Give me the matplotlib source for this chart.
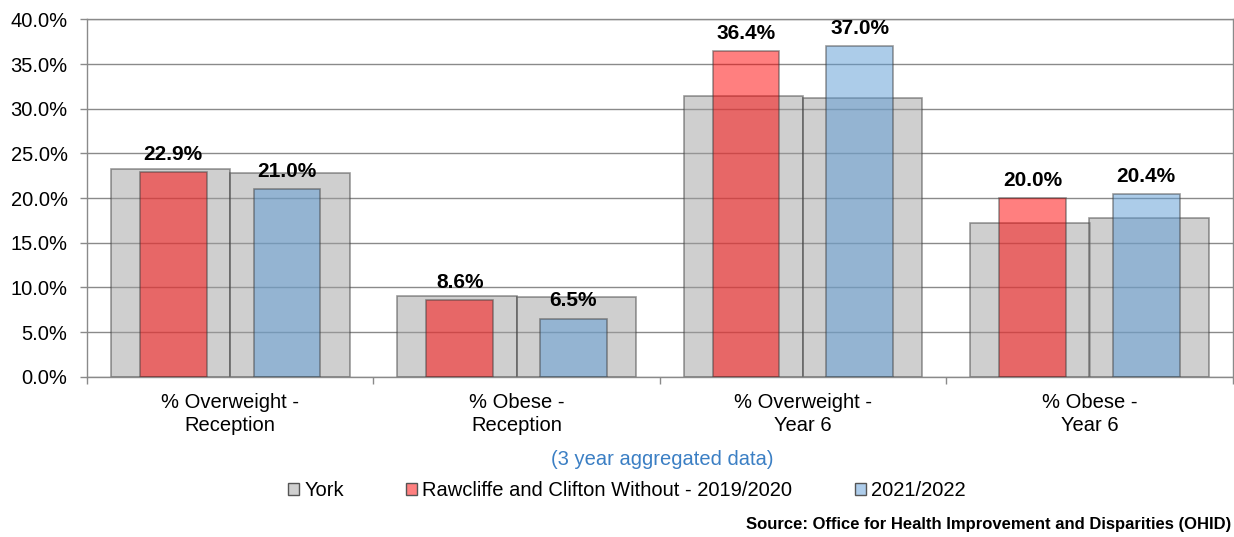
import matplotlib
matplotlib.use('Agg')
import matplotlib.pyplot as plt
import matplotlib.patches as patches
import numpy as np

plt.rcParams['font.family'] = ['Liberation Sans', 'DejaVu Sans']

categories = ['% Overweight -\nReception', '% Obese -\nReception',
              '% Overweight -\nYear 6', '% Obese -\nYear 6']
york_1920 = [23.2, 9.0, 31.4, 17.2]
york_2122 = [22.8, 8.9, 31.2, 17.8]
ward_1920 = [22.9, 8.6, 36.4, 20.0]
ward_2122 = [21.0, 6.5, 37.0, 20.4]
legend_labels = ['York', 'Rawcliffe and Clifton Without - 2019/2020', '2021/2022']
yticks = [0, 5, 10, 15, 20, 25, 30, 35, 40]

grid_col = '#8a8a8a'
edge_col = '#3a3a3a'

fig = plt.figure(figsize=(12.34, 5.37), dpi=100)
ax = fig.add_axes([0.0705, 0.2985, 0.9285, 0.6655])

x = np.arange(len(categories))
ax.set_axisbelow(True)
ax.yaxis.grid(True, color=grid_col, linewidth=1.0, zorder=0)

# York background bars
ax.bar(x - 0.208, york_1920, width=0.417, color='#a0a0a0', alpha=0.5,
       edgecolor=edge_col, linewidth=1.2, zorder=2)
ax.bar(x + 0.208, york_2122, width=0.417, color='#a0a0a0', alpha=0.5,
       edgecolor=edge_col, linewidth=1.2, zorder=2)

# ward bars
b1 = ax.bar(x - 0.199, ward_1920, width=0.233, color='#ff0000', alpha=0.5,
            edgecolor=edge_col, linewidth=1.2, zorder=3)
b2 = ax.bar(x + 0.198, ward_2122, width=0.233, color='#5b9bd5', alpha=0.5,
            edgecolor=edge_col, linewidth=1.2, zorder=3)

for bars, vals in ((b1, ward_1920), (b2, ward_2122)):
    for r, v in zip(bars, vals):
        ax.annotate('%.1f%%' % v, (r.get_x() + r.get_width() / 2, v),
                    xytext=(0, 6), textcoords='offset points',
                    ha='center', va='bottom', fontsize=15, fontweight='bold',
                    color='black', zorder=5)

ax.set_xlim(-0.5, len(categories) - 0.5)
ax.set_ylim(0, 40)
ax.set_yticks(yticks)
ax.set_yticklabels(['%.1f%%' % t for t in yticks])
ax.tick_params(axis='y', labelsize=14.5, length=5, width=1, color=grid_col, pad=9)

ax.set_xticks(np.arange(len(categories) + 1) - 0.5)
ax.set_xticklabels([''] * (len(categories) + 1))
ax.set_xticks(x, minor=True)
ax.set_xticklabels(categories, minor=True, fontsize=14.5, linespacing=1.25)
ax.tick_params(axis='x', which='minor', length=0, pad=12)
ax.tick_params(axis='x', which='major', length=5, width=1, color=grid_col)

for s in ax.spines.values():
    s.set_color(grid_col)
    s.set_linewidth(1.0)

fig.text(0.537, 0.145, '(3 year aggregated data)', ha='center', va='center',
         fontsize=14.5, color='#3b7fc4')

handles = [patches.Patch(facecolor='#d0d0d0', edgecolor='#555555'),
           patches.Patch(facecolor='#ff8080', edgecolor='#555555'),
           patches.Patch(facecolor='#aecdeb', edgecolor='#555555')]
fig.legend(handles, legend_labels, loc='center', bbox_to_anchor=(0.508, 0.087),
           ncol=3, frameon=False, fontsize=14.5, handlelength=0.55,
           handleheight=0.55, handletextpad=0.25, columnspacing=3.1)

fig.text(0.998, 0.024, 'Source: Office for Health Improvement and Disparities (OHID)',
         ha='right', va='center', fontsize=12, fontweight='bold')

fig.savefig('out.png', dpi=100)
